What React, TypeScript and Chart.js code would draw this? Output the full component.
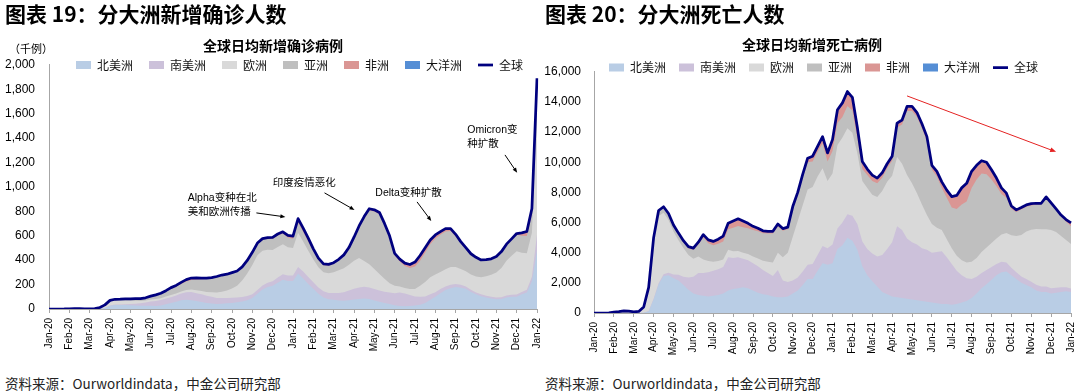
import React, { useEffect, useRef } from 'react';
import { Chart, registerables } from 'chart.js';

Chart.register(...registerables);

// ---------- data ----------
const MONTH_LABELS = ['Jan-20','Feb-20','Mar-20','Apr-20','May-20','Jun-20','Jul-20','Aug-20','Sep-20','Oct-20','Nov-20','Dec-20','Jan-21','Feb-21','Mar-21','Apr-21','May-21','Jun-21','Jul-21','Aug-21','Sep-21','Oct-21','Nov-21','Dec-21','Jan-22'];
const STEPS_PER_MONTH = 4; // samples on the 1st, 8th, 16th, 23rd of each month

const CONTINENTS = ['北美洲', '南美洲', '欧洲', '亚洲', '非洲', '大洋洲'];
const CONTINENT_COLORS = ['#B9CDE5', '#CCC1DA', '#D9D9D9', '#BFBFBF', '#DA9694', '#558ED5'];
const TOTAL_LABEL = '全球';
const TOTAL_COLOR = '#00007F';

// daily new cases, thousands (7-day average)
const CASES_NA = [0,0,0,0, 0,0,0,0, 0,0.1,1,8, 27,33,33,32, 31,29,27,26, 26,25,28,38, 50,60,72,76, 72,65,58,50, 46,40,43,47, 50,55,62,72, 90,125,160,180, 190,215,240,230, 230,290,250,205, 165,125,95,80, 75,70,68,72, 78,82,85,82, 70,60,50,40, 30,25,22,24, 28,35,50,75, 100,130,155,170, 180,175,165,140, 120,105,95,85, 80,82,95,100, 100,120,135,230, 480];
const CASES_SA = [0,0,0,0, 0,0,0,0, 0,0,0.1,0.5, 2,3,4.5,7, 10,14,20,27, 35,40,45,48, 47,50,55,62, 68,65,62,58, 55,50,47,44, 42,40,37,34, 31,30,32,35, 38,42,45,45, 45,55,58,58, 55,52,50,52, 57,62,70,80, 88,95,98,95, 93,92,92,95, 100,110,105,90, 75,65,52,45, 38,33,30,28, 24,23,20,18, 16,15,14,15, 14,14,15,17, 18,20,22,35, 130];
const CASES_EU = [0,0,0,0, 0,0,0,0, 0.5,2,9,22, 36,36,33,30, 27,24,19,17, 17,17,16,16, 17,17,16,17, 20,24,28,32, 37,45,52,60, 75,95,135,185, 240,285,285,270, 255,250,245,230, 225,280,245,215, 185,165,155,160, 170,185,195,210, 230,240,210,190, 165,135,105,75, 60,50,45,50, 60,90,120,140, 145,140,140,145, 140,130,125,125, 130,140,160,180, 205,240,285,320, 355,320,300,360, 970];
const CASES_AS = [0,0,0,0.5, 2,3,2.5,1, 1.5,1.5,2,3, 5,7,9,12, 13,15,17,19, 23,29,34,40, 52,55,62,70, 78,88,95,105, 112,125,130,128, 125,115,105,100, 95,92,90,90, 93,95,88,80, 75,85,80,75, 68,60,58,62, 67,80,100,130, 180,250,350,440, 470,490,440,375, 250,205,180,172, 185,205,240,270, 295,305,310,295, 250,210,180,160, 150,135,130,125, 125,128,130,130, 135,140,140,150, 240];
const CASES_AF = [0,0,0,0, 0,0,0,0, 0,0,0,0.1, 0.4,0.6,0.8,1, 1.4,2,2.5,3, 4,5,6,8, 9,11,13,15, 15,13,10,8, 7,6,6,6, 6,6,6,7, 8,8,9,10, 11,12,14,17, 22,30,30,27, 20,15,12,11, 10,10,10,11, 12,13,14,14, 14,14,14,14, 15,18,23,28, 36,43,40,34, 28,25,22,18, 15,12,10,7, 5,4,3,3, 3,3,3,4, 7,20,35,42, 45];
const CASES_OC = [0,0,0,0, 0,0,0,0, 0,0,0.05,0.2, 0.3,0.2,0.1,0.05, 0,0,0,0, 0,0,0,0, 0.1,0.2,0.3,0.4, 0.5,0.4,0.3,0.2, 0.1,0.05,0.05,0.05, 0.05,0.05,0.05,0.05, 0.05,0.05,0.05,0.05, 0.05,0.05,0.05,0.05, 0.1,0.1,0.1,0.1, 0.1,0.1,0.1,0.1, 0.1,0.1,0.1,0.1, 0.1,0.1,0.1,0.1, 0.1,0.1,0.1,0.1, 0.1,0.1,0.1,0.1, 0.1,0.2,0.3,0.4, 0.5,1,1.5,2, 2.5,2,2,2.5, 2.5,3,3,3, 3,3,3,3, 3,3,3,6, 25];

// daily new deaths (7-day average)
const DEATHS_NA = [0,0,0,0, 0,0,0,0, 0,2,20,120, 900,1900,2450,2500, 2300,2150,1850,1550, 1300,1200,1150,1100, 1150,1200,1300,1500, 1600,1650,1700,1650, 1500,1350,1250,1200, 1100,1050,1050,1100, 1300,1500,1850,2250, 2250,2800,3300,3200, 3300,4250,4500,5000, 4800,4200,3100,2500, 2100,1750,1400,1250, 1100,1050,1000,950, 900,850,800,750, 700,650,600,600, 550,600,700,800, 1000,1300,1650,1900, 2200,2500,2700,2750, 2500,2250,2000,1850, 1700,1500,1400,1400, 1300,1350,1400,1450, 1400];
const DEATHS_SA = [0,0,0,0, 0,0,0,0, 0,0,2,10, 40,80,120,170, 260,380,560,800, 1100,1450,1500,1600, 1650,1700,1750,2200, 2050,2050,1900,1850, 1800,1750,1600,1450, 1350,1800,1100,950, 850,850,900,950, 1000,1050,1150,1100, 1250,1350,1500,1550, 1650,1700,1650,1750, 1850,2000,2450,3000, 3600,4700,4500,4000, 3800,3700,3500,3450, 3300,3400,3500,3100, 2700,2200,1800,1500, 1250,1100,1000,950, 850,750,700,600, 500,450,420,400, 380,380,350,350, 350,330,300,250, 230];
const DEATHS_EU = [0,0,0,0, 0,0,0,2, 15,50,300,1420, 3800,4460,4080,3500, 2850,2300,1900,1500, 1200,1100,900,750, 600,550,500,500, 450,420,400,420, 450,520,620,750, 900,1150,1550,1950, 2900,3750,4400,5000, 5100,5200,5150,4450, 4700,5550,5650,5700, 5500,4700,4000,4050, 3900,3950,4250,4450, 4400,4600,4400,4200, 3900,3400,2900,2300, 1900,1600,1400,1200, 1050,1000,1000,1050, 1150,1250,1400,1500, 1600,1700,1800,1950, 2150,2400,2750,3150, 3450,3700,3800,3800, 3850,3700,3400,3150, 2950];
const DEATHS_AS = [0,0,0,10, 60,95,140,118, 65,48,78,140, 230,310,340,360, 360,390,400,450, 580,800,1460,1180, 1100,1150,1200,1350, 1550,1650,1680,1700, 1750,1800,1820,1870, 1930,1750,1750,1550, 1850,1740,1850,1800, 1700,1650,1650,1300, 1500,1450,1350,1480, 1480,1000,800,850, 900,900,880,900, 1000,1950,2600,4250, 4800,5050,5050,4900, 3600,3400,2800,2750, 2700,3100,3700,4050, 4900,5200,5200,4850, 4200,3450,2700,2350, 1750,1600,1700,1650, 1600,1600,1650,2070, 1720,1440,1300,1200, 1180];
const DEATHS_AF = [0,0,0,0, 0,0,0,0, 0,0,0,5, 20,40,50,60, 65,78,90,100, 120,150,190,220, 250,300,350,400, 450,470,400,310, 230,180,150,140, 135,145,150,150, 160,160,200,270, 350,360,450,570, 750,880,940,960, 880,700,500,400, 400,350,320,300, 300,300,300,300, 300,300,300,300, 300,350,400,500, 720,900,1100,1200, 1100,950,850,800, 650,550,400,300, 200,140,130,120, 120,100,80,80, 80,80,100,150, 215];
const DEATHS_OC = [0,0,0,0, 0,0,0,0, 0,0,0,5, 10,10,10,10, 5,2,0,0, 0,0,0,0, 0,0,0,0, 0,10,20,20, 20,20,10,10, 5,5,0,0, 0,0,0,0, 0,0,0,0, 0,0,0,0, 0,0,0,0, 0,0,0,0, 0,0,0,0, 0,0,0,0, 0,0,0,0, 0,0,0,0, 0,0,0,0, 0,0,0,0, 0,0,0,0, 0,0,0,0, 0,0,0,0, 0];

// annotations, in data units: [sample index, value]
const CASES_NOTES = [
  { lines: ['Alpha变种在北', '美和欧洲传播'], at: [27.3, 910], from: [40.8, 787], to: [46.5, 754] },
  { lines: ['印度疫情恶化'], at: [44.0, 1033], from: [54.2, 951], to: [60.1, 811] },
  { lines: ['Delta变种扩散'], at: [64.2, 951], from: [72.4, 877], to: [75.2, 721] },
  { lines: ['Omicron变', '种扩散'], at: [82.3, 1467], from: [89.7, 1262], to: [92.1, 1115] },
];
const DEATHS_TREND = [{ from: [63.0, 14400], to: [93.0, 10690] }];

// ---------- helpers ----------
const LATIN = '"Liberation Sans", Arial, "Noto Sans CJK SC", sans-serif';
const CJK = '"Noto Sans CJK SC", "Liberation Sans", sans-serif';

const POINT_LABELS: string[] = [];
for (let m = 0; m < MONTH_LABELS.length; m++) {
  for (let k = 0; k < STEPS_PER_MONTH; k++) {
    if (m === MONTH_LABELS.length - 1 && k > 0) break;
    POINT_LABELS.push(k === 0 ? MONTH_LABELS[m] : `${MONTH_LABELS[m]}·${k}`);
  }
}

function drawArrow(ctx: CanvasRenderingContext2D, x1: number, y1: number, x2: number, y2: number, color: string, width: number, head: number) {
  const a = Math.atan2(y2 - y1, x2 - x1);
  const c = Math.cos(a), s = Math.sin(a);
  ctx.strokeStyle = color;
  ctx.fillStyle = color;
  ctx.lineWidth = width;
  ctx.beginPath();
  ctx.moveTo(x1, y1);
  ctx.lineTo(x2 - head * 0.8 * c, y2 - head * 0.8 * s);
  ctx.stroke();
  ctx.beginPath();
  ctx.moveTo(x2, y2);
  ctx.lineTo(x2 - head * c + head * 0.4 * s, y2 - head * s - head * 0.4 * c);
  ctx.lineTo(x2 - head * c - head * 0.4 * s, y2 - head * s + head * 0.4 * c);
  ctx.closePath();
  ctx.fill();
}

const placePlugin = {
  id: 'place',
  afterLayout(chart: any, _args: any, opts: any) {
    const t = chart.titleBlock;
    if (t) {
      const lh = 14 * 1.2;
      t.left = opts.titleX - 150;
      t.right = opts.titleX + 150;
      t.top = opts.titleY - lh / 2;
      t.bottom = t.top + lh;
    }
    const l = chart.legend;
    if (l) {
      l.left = opts.legendX - opts.legendPad;
      l.right = chart.width + 200;
      l.top = opts.legendY - opts.legendPad - 6;
      l.bottom = l.top + 30;
    }
  },
};

const notesPlugin = {
  id: 'notes',
  afterDatasetsDraw(chart: any, _args: any, opts: any) {
    const { ctx, scales } = chart;
    const x = scales.x, y = scales.y;
    ctx.save();
    for (const n of opts.notes || []) {
      ctx.font = `10.5px ${LATIN}`;
      ctx.fillStyle = '#000';
      ctx.textAlign = 'left';
      ctx.textBaseline = 'middle';
      const px = x.getPixelForValue(n.at[0]);
      const py = y.getPixelForValue(n.at[1]);
      n.lines.forEach((line: string, k: number) => ctx.fillText(line, px, py + k * 14));
      drawArrow(ctx, x.getPixelForValue(n.from[0]), y.getPixelForValue(n.from[1]), x.getPixelForValue(n.to[0]), y.getPixelForValue(n.to[1]), '#000', 1, 5);
    }
    for (const a of opts.arrows || []) {
      drawArrow(ctx, x.getPixelForValue(a.from[0]), y.getPixelForValue(a.from[1]), x.getPixelForValue(a.to[0]), y.getPixelForValue(a.to[1]), '#E42222', 1, 6);
    }
    ctx.restore();
  },
};

type Cfg = {
  left: number; top: number; width: number; height: number; padRight: number;
  yMax: number; yStep: number; yWidth: number; yPad: number;
  title: string; titleX: number; titleY: number;
  legendX: number; legendY: number; legendPad: number;
  series: number[][]; notes?: any[]; arrows?: any[];
};

function StackChart({ cfg }: { cfg: Cfg }) {
  const ref = useRef<HTMLCanvasElement>(null);
  useEffect(() => {
    const areas = cfg.series.map((data, i) => ({
      label: CONTINENTS[i],
      data,
      backgroundColor: CONTINENT_COLORS[i],
      borderColor: CONTINENT_COLORS[i],
      borderWidth: 0,
      pointBorderWidth: 0,
      pointRadius: 0,
      pointHoverRadius: 0,
      pointStyle: 'rect',
      fill: 'origin',
      tension: 0,
      order: 0,
    }));
    const total = cfg.series[0].map((_, j) => cfg.series.reduce((s, arr) => s + arr[j], 0));
    const totalDs = {
      label: TOTAL_LABEL,
      data: total,
      stack: 'total',
      borderColor: TOTAL_COLOR,
      backgroundColor: TOTAL_COLOR,
      borderWidth: 2.75,
      pointBorderWidth: 2.75,
      pointRadius: 0,
      pointHoverRadius: 0,
      pointStyle: 'line',
      borderJoinStyle: 'round',
      fill: false,
      tension: 0,
      order: -1,
    };
    const chart = new Chart(ref.current as HTMLCanvasElement, {
      type: 'line',
      data: { labels: POINT_LABELS, datasets: [...areas, totalDs] as any },
      options: {
        animation: false,
        responsive: false,
        maintainAspectRatio: false,
        events: [],
        layout: { padding: { left: 0, right: cfg.padRight, top: 0, bottom: 0 } },
        plugins: {
          title: { display: true, text: cfg.title, color: '#000', padding: 0, font: { size: 14, weight: 'bold', family: CJK } },
          legend: {
            display: true,
            position: 'top',
            align: 'start',
            labels: {
              usePointStyle: true,
              pointStyleWidth: 15,
              boxHeight: 8,
              padding: cfg.legendPad,
              color: '#111',
              font: { size: 12, family: CJK },
              sort: (a: any, b: any) => a.datasetIndex - b.datasetIndex,
            },
          },
          tooltip: { enabled: false },
          place: { titleX: cfg.titleX, titleY: cfg.titleY, legendX: cfg.legendX, legendY: cfg.legendY, legendPad: cfg.legendPad },
          notes: { notes: cfg.notes || [], arrows: cfg.arrows || [] },
        } as any,
        scales: {
          x: {
            type: 'category',
            offset: false,
            grid: { display: true, drawOnChartArea: false, drawTicks: true, tickLength: 4, color: '#A6A6A6', offset: false },
            border: { display: true, color: '#A6A6A6', width: 1 },
            ticks: { autoSkip: false, maxRotation: 90, minRotation: 90, padding: 5, color: '#000', font: { size: 10, family: LATIN } },
            afterBuildTicks: (s: any) => { s.ticks = s.ticks.filter((t: any) => t.value % STEPS_PER_MONTH === 0); },
            afterFit: (s: any) => { s.height = 44; s.paddingLeft = 0; s.paddingRight = 0; },
          },
          y: {
            type: 'linear',
            stacked: true,
            min: 0,
            max: cfg.yMax,
            grid: { display: false, drawTicks: false },
            border: { display: true, color: '#A6A6A6', width: 1 },
            ticks: {
              stepSize: cfg.yStep,
              padding: cfg.yPad,
              color: '#000',
              font: { size: 12, family: LATIN },
              callback: (v: any) => Number(v).toLocaleString('en-US'),
            },
            afterFit: (s: any) => { s.width = cfg.yWidth; },
          },
        } as any,
      },
      plugins: [placePlugin, notesPlugin] as any,
    });
    return () => chart.destroy();
  }, []);
  return (
    <canvas
      ref={ref}
      width={cfg.width}
      height={cfg.height}
      style={{ position: 'absolute', left: cfg.left, top: cfg.top, width: cfg.width, height: cfg.height }}
    />
  );
}

const CASES_CFG: Cfg = {
  left: 0, top: 10, width: 548, height: 343, padRight: 11,
  yMax: 2000, yStep: 200, yWidth: 49, yPad: 14,
  title: '全球日均新增确诊病例', titleX: 273, titleY: 36,
  legendX: 76, legendY: 55, legendPad: 16,
  series: [CASES_NA, CASES_SA, CASES_EU, CASES_AS, CASES_AF, CASES_OC],
  notes: CASES_NOTES,
};

const DEATHS_CFG: Cfg = {
  left: 540, top: 20, width: 540, height: 337, padRight: 9,
  yMax: 16000, yStep: 2000, yWidth: 54, yPad: 13,
  title: '全球日均新增死亡病例', titleX: 272, titleY: 25,
  legendX: 69, legendY: 47.5, legendPad: 13,
  series: [DEATHS_NA, DEATHS_SA, DEATHS_EU, DEATHS_AS, DEATHS_AF, DEATHS_OC],
  arrows: DEATHS_TREND,
};

const headStyle: React.CSSProperties = {
  position: 'absolute', top: 1, fontFamily: CJK, fontWeight: 700, fontSize: 21, lineHeight: '24px', color: '#000', whiteSpace: 'nowrap',
};
const srcStyle: React.CSSProperties = {
  position: 'absolute', top: 375, fontFamily: CJK, fontSize: 13.5, lineHeight: '16px', color: '#222', whiteSpace: 'nowrap',
};

export default function App() {
  return (
    <div style={{ position: 'fixed', left: 0, top: 0, width: 1080, height: 391, background: '#fff', overflow: 'hidden' }}>
      <StackChart cfg={CASES_CFG} />
      <StackChart cfg={DEATHS_CFG} />
      <div style={{ ...headStyle, left: 5 }}>图表 19：分大洲新增确诊人数</div>
      <div style={{ ...headStyle, left: 545 }}>图表 20：分大洲死亡人数</div>
      <div style={{ position: 'absolute', left: 9, top: 41, fontFamily: CJK, fontSize: 11, lineHeight: '14px', color: '#000' }}>（千例）</div>
      <div style={{ ...srcStyle, left: 5 }}>资料来源：Ourworldindata，中金公司研究部</div>
      <div style={{ ...srcStyle, left: 545 }}>资料来源：Ourworldindata，中金公司研究部</div>
    </div>
  );
}
